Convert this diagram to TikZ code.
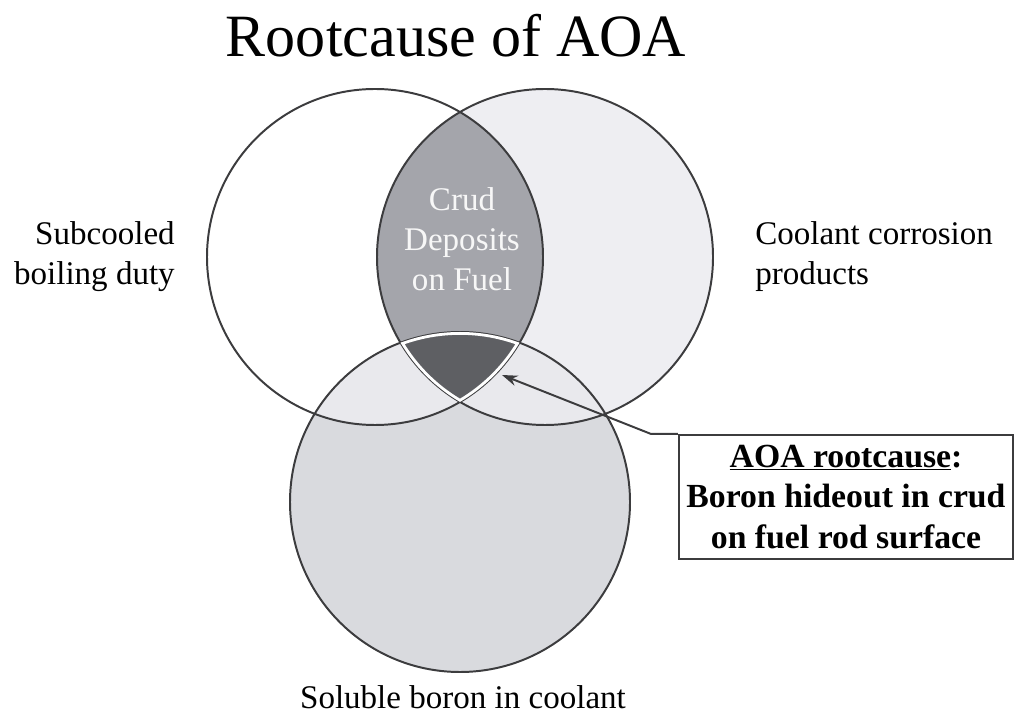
\documentclass[tikz,border=0pt]{standalone}
\usepackage{fontspec}
\setmainfont{Liberation Serif}
\usepackage{tikz}
\usetikzlibrary{arrows.meta,positioning}
\definecolor{rimgray}{HTML}{3C3C3E}
\definecolor{rightfill}{HTML}{EEEEF2}
\definecolor{botfill}{HTML}{D9DADE}
\definecolor{mixfill}{HTML}{E9E9ED}
\definecolor{lensfill}{HTML}{A4A5AB}
\definecolor{corefill}{HTML}{5E5F63}
\newcommand{\lcirc}{(9.375,11.675) circle (4.2)}
\newcommand{\rcirc}{(13.625,11.675) circle (4.2)}
\newcommand{\bcirc}{(11.5,5.55) circle (4.25)}

\begin{document}
\begin{tikzpicture}[>={Stealth[length=11pt,width=7.5pt]},
    txt/.style={font=\fontsize{23.5}{28.5}\selectfont, inner sep=0pt}]
  \useasboundingbox (0,0) rectangle (25.5,18.1);
  % circles
  \fill[white] \lcirc;
  \fill[rightfill] \rcirc;
  \fill[botfill] \bcirc;
  \begin{scope}
    \clip \bcirc;
    \fill[mixfill] \lcirc;
    \fill[mixfill] \rcirc;
  \end{scope}
  \begin{scope}
    \clip \lcirc;
    \fill[lensfill] \rcirc;
    \clip \rcirc;
    \fill[corefill] \bcirc;
  \end{scope}
  \draw[rimgray, line width=1.4pt] \lcirc \rcirc \bcirc;
  \begin{scope}
    \clip \lcirc; \clip \rcirc; \clip \bcirc;
    \draw[white, line width=4pt] \lcirc \rcirc \bcirc;
  \end{scope}
  % texts
  \node[txt, font=\fontsize{42.7}{50}\selectfont, anchor=base] (ttl) at (11.4, 16.675) {Rootcause of AOA};
  \node[txt, align=right, anchor=east] (sub) at (4.375, 11.675) {Subcooled\\boiling duty};
  \node[txt, align=left, anchor=west] (cor) at (18.875, 11.675) {Coolant corrosion\\products};
  \node[txt, anchor=base] (sol) at (11.575, 0.4) {Soluble boron in coolant};
  \node[txt, align=center, text=white!94!gray] (crud) at (11.55, 12.125) {Crud\\Deposits\\on Fuel};
  \node[draw=rimgray, line width=1.5pt, minimum width=8.35cm, minimum height=3.1cm, align=center,
        font=\bfseries\fontsize{24}{29}\selectfont] (rc) at (21.15, 5.675)
        {\underline{AOA rootcause}:\\Boron hideout in crud\\on fuel rod surface};
  \coordinate (hid) at (12.55, 8.725);
  \draw[->, rimgray, line width=1.4pt] (rc.north west) -- ++(-0.675,0) -- (hid);
\end{tikzpicture}
\end{document}
